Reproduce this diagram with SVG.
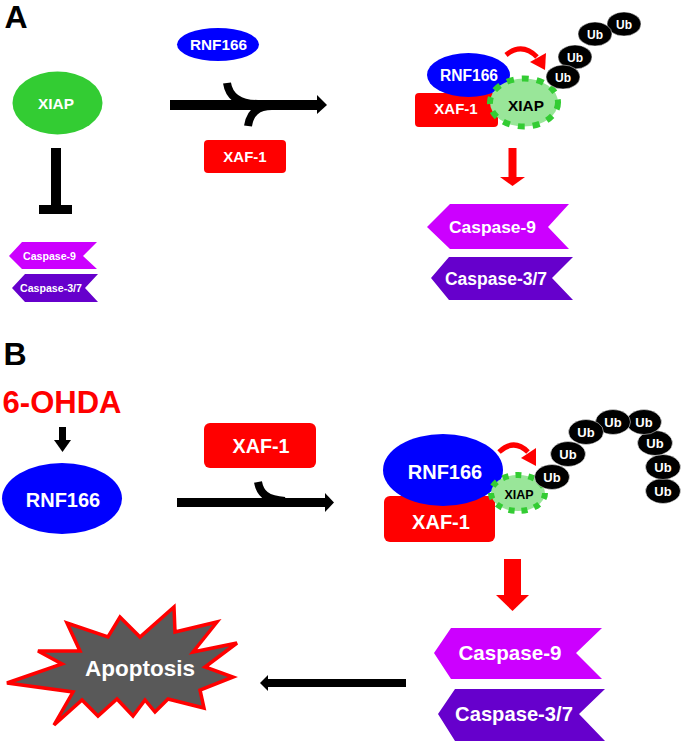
<svg xmlns="http://www.w3.org/2000/svg" width="685" height="741" viewBox="0 0 685 741">
<style>
text{font-family:"Liberation Sans",Arial,sans-serif;font-weight:bold;text-anchor:middle}
.w{fill:#fff}
.k{fill:#000}
.blue{fill:#0000FF}
.red{fill:#FF0000}
.c9{fill:#CC00FF}
.c37{fill:#6600CC}
.ub{fill:#000;stroke:#fff;stroke-width:0.5}
.xiap{fill:#99E699;stroke:#33CC33;stroke-width:6}
.bl{stroke:#000;fill:none}
</style>
<rect width="685" height="741" fill="#fff"/>

<text x="16" y="28" style="font-size:32px" class="k">A</text>
<text x="15" y="365" style="font-size:32px" class="k">B</text>

<!-- Panel A -->
<g id="a-xiap">
<ellipse cx="57.5" cy="103" rx="45" ry="31.5" fill="#33CC33"/>
<text x="56" y="108.5" class="w" style="font-size:15.4px">XIAP</text>
</g>
<g id="a-rnf166">
<ellipse cx="218" cy="44.5" rx="41" ry="16.5" class="blue"/>
<text x="218.5" y="50" class="w" style="font-size:15.3px">RNF166</text>
</g>
<g id="a-xaf1">
<rect x="204" y="140" width="82" height="33" rx="4" class="red"/>
<text x="245" y="162" class="w" style="font-size:15px">XAF-1</text>
</g>
<g id="a-casp9-small">
<polygon points="9,256 22,242 97,242 83,256 97,269 22,269" class="c9"/>
<text x="49.5" y="259.5" class="w" style="font-size:10.6px">Caspase-9</text>
</g>
<g id="a-casp37-small">
<polygon points="12,288 25,274 98,274 85,288 98,302 25,302" class="c37"/>
<text x="51" y="291.5" class="w" style="font-size:10.6px">Caspase-3/7</text>
</g>
<g id="a-complex">
<rect x="415" y="93" width="83" height="34" rx="4" class="red"/>
<text x="456" y="113.5" class="w" style="font-size:15px">XAF-1</text>
<ellipse cx="468.5" cy="75" rx="41.5" ry="22" class="blue"/>
<text x="469" y="80.5" class="w" style="font-size:15.6px">RNF166</text>
<ellipse cx="524" cy="102.5" rx="34" ry="24" class="xiap" stroke-dasharray="7 8"/>
<text x="526" y="111" class="k" style="font-size:15.4px">XIAP</text>
</g>
<g id="a-ub">
<ellipse cx="624" cy="24" rx="17" ry="12" class="ub"/>
<text x="624" y="28.5" class="w" style="font-size:12px">Ub</text>
<ellipse cx="595" cy="34" rx="17" ry="12" class="ub"/>
<text x="595" y="38.5" class="w" style="font-size:12px">Ub</text>
<ellipse cx="575" cy="57" rx="17" ry="12" class="ub"/>
<text x="575" y="61.5" class="w" style="font-size:12px">Ub</text>
<ellipse cx="563" cy="77" rx="17" ry="12" class="ub"/>
<text x="563" y="81.5" class="w" style="font-size:12px">Ub</text>
</g>
<g id="a-casp9">
<polygon points="427,227 450,204 569,204 548,227 569,249 450,249" class="c9"/>
<text x="492.5" y="232.5" class="w" style="font-size:17.4px">Caspase-9</text>
</g>
<g id="a-casp37">
<polygon points="431,278 449,257 573,257 552,278 573,300 449,300" class="c37"/>
<text x="496" y="284.5" class="w" style="font-size:17.5px">Caspase-3/7</text>
</g>

<!-- Panel B -->
<g id="b-ohda">
<text x="62" y="413" class="red" style="font-size:31px">6-OHDA</text>
</g>
<g id="b-rnf166">
<ellipse cx="62" cy="498.5" rx="60" ry="35.5" class="blue"/>
<text x="63" y="507" class="w" style="font-size:20px">RNF166</text>
</g>
<g id="b-xaf1">
<rect x="204" y="423" width="112" height="45" rx="6" class="red"/>
<text x="261" y="453" class="w" style="font-size:19.7px">XAF-1</text>
</g>
<g id="b-complex">
<rect x="384" y="496" width="111" height="46" rx="6" class="red"/>
<text x="441" y="529" class="w" style="font-size:20px">XAF-1</text>
<ellipse cx="443" cy="470" rx="60" ry="36" class="blue"/>
<text x="445" y="479" class="w" style="font-size:20px">RNF166</text>
<ellipse cx="518" cy="493" rx="27" ry="18" class="xiap" stroke-dasharray="6 7"/>
<text x="519" y="499" class="k" style="font-size:12.5px">XIAP</text>
</g>
<g id="b-ub">
<ellipse cx="663" cy="491" rx="17.5" ry="12.5" class="ub"/>
<text x="663" y="496" class="w" style="font-size:13px">Ub</text>
<ellipse cx="663" cy="467" rx="17.5" ry="12.5" class="ub"/>
<text x="663" y="472" class="w" style="font-size:13px">Ub</text>
<ellipse cx="655" cy="443" rx="17.5" ry="12.5" class="ub"/>
<text x="655" y="448" class="w" style="font-size:13px">Ub</text>
<ellipse cx="644" cy="422" rx="17.5" ry="12.5" class="ub"/>
<text x="644" y="427" class="w" style="font-size:13px">Ub</text>
<ellipse cx="613" cy="422" rx="17.5" ry="12.5" class="ub"/>
<text x="613" y="427" class="w" style="font-size:13px">Ub</text>
<ellipse cx="586" cy="432" rx="17.5" ry="12.5" class="ub"/>
<text x="586" y="437" class="w" style="font-size:13px">Ub</text>
<ellipse cx="568" cy="454" rx="17.5" ry="12.5" class="ub"/>
<text x="568" y="459" class="w" style="font-size:13px">Ub</text>
<ellipse cx="552" cy="477" rx="17.5" ry="12.5" class="ub"/>
<text x="552" y="482" class="w" style="font-size:13px">Ub</text>
</g>
<g id="b-casp9">
<polygon points="434,653 451,628 602,628 576,653 602,679 451,679" class="c9"/>
<text x="510" y="660" class="w" style="font-size:20.6px">Caspase-9</text>
</g>
<g id="b-casp37">
<polygon points="438,714 455,689 605,689 579,714 605,741 455,741" class="c37"/>
<text x="514" y="720.5" class="w" style="font-size:20.2px">Caspase-3/7</text>
</g>
<g id="b-apoptosis">
<polygon points="7,683 62,664 38,651 80,651 67,623 108,637 120,617 140,637 174,607 175,632 217,622 193,652 237,643 205,667 233,677 200,690 204,708 168,699 155,712 145,700 133,716 117,699 98,716 82,700 54,725 73,692" fill="#595959" stroke="#FF0000" stroke-width="3.5" stroke-linejoin="miter"/>
<text x="140" y="676" class="w" style="font-size:22.5px">Apoptosis</text>
</g>

<!-- Connectors -->
<g id="connectors">
<rect x="51" y="148" width="10" height="60" class="k"/>
<rect x="39" y="205" width="33" height="9" class="k"/>
<rect x="170" y="100" width="149" height="10" class="k"/>
<polygon points="317,95 327,105 317,114" class="k"/>
<path d="M227,83 C229,96 238,104 258,104" class="bl" stroke-width="8"/>
<path d="M248,126 C250,113 257,106 272,106" class="bl" stroke-width="8"/>
<path d="M506,55 Q522,42 537,57" fill="none" stroke="#FF0000" stroke-width="5"/>
<polygon points="530,62 546,53 545,70" class="red"/>
<rect x="508.5" y="148" width="8" height="30" class="red"/>
<polygon points="500,177 525,177 512.5,186" class="red"/>
<rect x="59" y="427" width="7" height="14" class="k"/>
<polygon points="54,440 71,440 62.5,452" class="k"/>
<rect x="177" y="498" width="149" height="9" class="k"/>
<polygon points="325,493 334,502.5 325,512" class="k"/>
<path d="M258,482 C260,493 266,500 285,501" class="bl" stroke-width="8"/>
<path d="M499,452 Q514,438 528,452" fill="none" stroke="#FF0000" stroke-width="5"/>
<polygon points="521,458 536,448 536,466" class="red"/>
<rect x="504" y="559" width="17" height="37" class="red"/>
<polygon points="496,595 529,595 512.5,611" class="red"/>
<rect x="267" y="679" width="139" height="8" class="k"/>
<polygon points="268,675 260,683 268,691" class="k"/>
</g>
</svg>
